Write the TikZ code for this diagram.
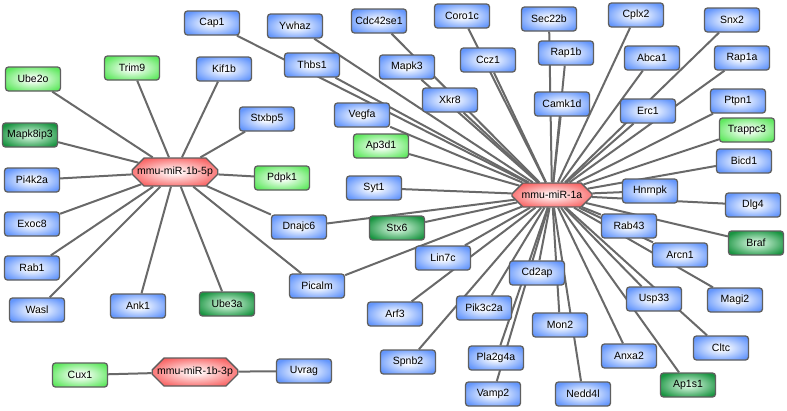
\documentclass[tikz,border=0pt]{standalone}
\usepackage{fontspec}
\setmainfont{Liberation Sans}
\usetikzlibrary{shapes.misc}
\pgfdeclarelayer{bgwhite}
\pgfdeclarelayer{edgelayer}
\pgfsetlayers{bgwhite,edgelayer,main}
\definecolor{bordergray}{RGB}{95,95,95}
\definecolor{edgegray}{RGB}{105,105,105}
\definecolor{blueout}{RGB}{100,150,252}
\definecolor{bluein}{RGB}{250,252,255}
\definecolor{glout}{RGB}{95,232,95}
\definecolor{glin}{RGB}{248,255,248}
\definecolor{gdout}{RGB}{25,148,65}
\definecolor{gdin}{RGB}{205,242,215}
\definecolor{redout}{RGB}{248,92,92}
\definecolor{redin}{RGB}{255,240,240}
\colorlet{nin}{white}
\colorlet{nout}{blue}
\pgfdeclareradialshading[nin,nout]{nodeball}{\pgfpoint{0bp}{0bp}}{color(0bp)=(nin); color(4bp)=(nin); color(30bp)=(nout); color(50bp)=(nout)}
\begin{document}
\begin{tikzpicture}[x=1pt,y=-1pt,
  gene/.style={rectangle, rounded corners=3pt, draw=bordergray, line width=1.3pt,
    minimum width=55pt, minimum height=24pt, inner sep=0pt,
    font=\fontsize{10.5}{12}\selectfont},
  gb/.style={gene, /utils/exec={\colorlet{nin}{bluein}\colorlet{nout}{blueout}}, shade, shading=nodeball},
  gl/.style={gene, /utils/exec={\colorlet{nin}{glin}\colorlet{nout}{glout}}, shade, shading=nodeball},
  gd/.style={gene, /utils/exec={\colorlet{nin}{gdin}\colorlet{nout}{gdout}}, shade, shading=nodeball},
  hub/.style={chamfered rectangle, chamfered rectangle xsep=8pt, chamfered rectangle ysep=7pt,
    draw=bordergray, line width=1.3pt, inner sep=0pt,
    /utils/exec={\colorlet{nin}{redin}\colorlet{nout}{redout}}, shade, shading=nodeball,
    font=\fontsize{10.5}{12}\selectfont},
  edge/.style={draw=edgegray, line width=2pt}]
\useasboundingbox (0,0) rectangle (787,410);
\begin{pgfonlayer}{bgwhite}
\fill[white] (0,0) rectangle (787,410);
\end{pgfonlayer}
% hubs
\node[hub, minimum width=84pt, minimum height=28pt] (h5p) at (175,172) {mmu-miR-1b-5p};
\node[hub, minimum width=82pt, minimum height=28pt] (h3p) at (195,372) {mmu-miR-1b-3p};
\node[hub, minimum width=80pt, minimum height=24pt] (h1a) at (552,195) {mmu-miR-1a};
% left cluster
\node[gb] (Cap1) at (212,23) {Cap1};
\node[gl] (Trim9) at (132,68) {Trim9};
\node[gb] (Kif1b) at (224,69) {Kif1b};
\node[gl] (Ube2o) at (33,79) {Ube2o};
\node[gd] (Mapk8ip3) at (30,135) {Mapk8ip3};
\node[gb] (Pi4k2a) at (32,180) {Pi4k2a};
\node[gb] (Stxbp5) at (267,119) {Stxbp5};
\node[gl] (Pdpk1) at (282,178) {Pdpk1};
\node[gb] (Exoc8) at (32,224) {Exoc8};
\node[gb] (Rab1) at (32,268) {Rab1};
\node[gb] (Wasl) at (37,310) {Wasl};
\node[gb] (Ank1) at (138,306) {Ank1};
\node[gd] (Ube3a) at (227,304) {Ube3a};
\node[gb] (Dnajc6) at (299,227) {Dnajc6};
\node[gb] (Picalm) at (317,286) {Picalm};
\node[gl] (Cux1) at (80,375) {Cux1};
\node[gb] (Uvrag) at (304,371) {Uvrag};
% top
\node[gb] (Ywhaz) at (295,26) {Ywhaz};
\node[gb] (Cdc42se1) at (379,21) {Cdc42se1};
\node[gb] (Coro1c) at (462,16) {Coro1c};
\node[gb] (Thbs1) at (312,65) {Thbs1};
\node[gb] (Mapk3) at (407,67) {Mapk3};
\node[gb] (Ccz1) at (488,60) {Ccz1};
\node[gb] (Xkr8) at (450,100) {Xkr8};
\node[gb] (Vegfa) at (362,115) {Vegfa};
\node[gl] (Ap3d1) at (381,146) {Ap3d1};
\node[gb] (Syt1) at (374,188) {Syt1};
\node[gb] (Sec22b) at (549,19) {Sec22b};
\node[gb] (Cplx2) at (636,15) {Cplx2};
\node[gb] (Snx2) at (732,20) {Snx2};
\node[gb] (Rap1b) at (566,53) {Rap1b};
\node[gb] (Abca1) at (652,58) {Abca1};
\node[gb] (Rap1a) at (742,58) {Rap1a};
\node[gb] (Camk1d) at (562,104) {Camk1d};
\node[gb] (Erc1) at (648,111) {Erc1};
\node[gb] (Ptpn1) at (738,101) {Ptpn1};
\node[gl] (Trappc3) at (747,130) {Trappc3};
\node[gb] (Bicd1) at (744,161) {Bicd1};
\node[gb] (Hnrnpk) at (650,191) {Hnrnpk};
\node[gb] (Dlg4) at (753,205) {Dlg4};
% bottom right
\node[gb] (Rab43) at (629,226) {Rab43};
\node[gd] (Braf) at (756,243) {Braf};
\node[gb] (Arcn1) at (680,255) {Arcn1};
\node[gb] (Cd2ap) at (537,273) {Cd2ap};
\node[gb] (Usp33) at (654,299) {Usp33};
\node[gb] (Magi2) at (735,300) {Magi2};
\node[gb] (Mon2) at (560,325) {Mon2};
\node[gb] (Anxa2) at (629,356) {Anxa2};
\node[gb] (Cltc) at (721,348) {Cltc};
\node[gd] (Ap1s1) at (688,385) {Ap1s1};
\node[gb] (Nedd4l) at (583,394) {Nedd4l};
\node[gd] (Stx6) at (397,228) {Stx6};
\node[gb] (Lin7c) at (443,258) {Lin7c};
\node[gb] (Arf3) at (395,314) {Arf3};
\node[gb] (Pik3c2a) at (484,308) {Pik3c2a};
\node[gb] (Spnb2) at (408,362) {Spnb2};
\node[gb] (Pla2g4a) at (496,358) {Pla2g4a};
\node[gb] (Vamp2) at (493,394) {Vamp2};
% edges
\begin{pgfonlayer}{edgelayer}
\foreach \t in {Trim9,Kif1b,Ube2o,Mapk8ip3,Pi4k2a,Stxbp5,Pdpk1,Exoc8,Rab1,Wasl,Ank1,Ube3a,Dnajc6,Picalm}
  \draw[edge] (h5p) -- (\t);
\foreach \t in {Cux1,Uvrag}
  \draw[edge] (h3p) -- (\t);
\foreach \t in {Cap1,Ywhaz,Cdc42se1,Coro1c,Thbs1,Mapk3,Ccz1,Xkr8,Vegfa,Ap3d1,Syt1,Sec22b,Rap1b,Camk1d,Cplx2,Abca1,Snx2,Rap1a,Erc1,Ptpn1,Trappc3,Bicd1,Hnrnpk,Dlg4,Rab43,Braf,Arcn1,Magi2,Usp33,Cltc,Ap1s1,Anxa2,Mon2,Nedd4l,Cd2ap,Pla2g4a,Vamp2,Pik3c2a,Spnb2,Lin7c,Arf3,Stx6,Dnajc6,Picalm}
  \draw[edge] (h1a) -- (\t);
\end{pgfonlayer}
\end{tikzpicture}
\end{document}
